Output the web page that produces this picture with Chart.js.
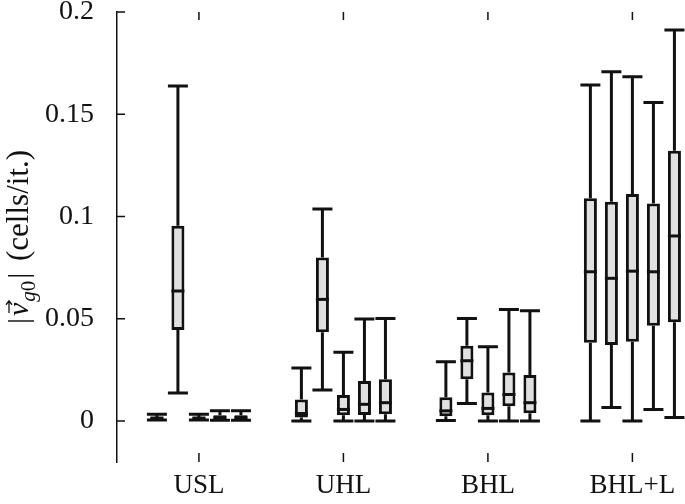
<!DOCTYPE html>
<html>
<head>
<meta charset="utf-8">
<script src="https://cdn.jsdelivr.net/npm/chart.js@4.4.1/dist/chart.umd.min.js"></script>
<style>
  html, body { margin: 0; padding: 0; background: #fff; }
  canvas { display: block; }
</style>
</head>
<body>
<canvas id="chart" width="685" height="504"></canvas>
<script>
const categories = ['USL', 'UHL', 'BHL', 'BHL+L'];
const yTicks = [0, 0.05, 0.1, 0.15, 0.2];

// one entry per box: [low whisker, q1, median, q3, high whisker]
const usl = [
  [0.0005, 0.0010, 0.0015, 0.0020, 0.0034],
  [0.0137, 0.0445, 0.0636, 0.0955, 0.1638],
  [0.0005, 0.0010, 0.0015, 0.0020, 0.0034],
  [0.0004, 0.0010, 0.0018, 0.0028, 0.0050],
  [0.0004, 0.0010, 0.0018, 0.0028, 0.0050]
];
const uhl = [
  [0.0000, 0.0018, 0.0037, 0.0106, 0.0260],
  [0.0152, 0.0434, 0.0595, 0.0800, 0.1037],
  [0.0000, 0.0029, 0.0057, 0.0127, 0.0337],
  [0.0000, 0.0030, 0.0082, 0.0196, 0.0499],
  [0.0000, 0.0034, 0.0090, 0.0204, 0.0502]
];
const bhl = [
  [0.0003, 0.0024, 0.0050, 0.0116, 0.0290],
  [0.0086, 0.0205, 0.0295, 0.0368, 0.0502],
  [0.0000, 0.0029, 0.0062, 0.0140, 0.0363],
  [0.0000, 0.0073, 0.0130, 0.0238, 0.0546],
  [0.0000, 0.0038, 0.0090, 0.0225, 0.0540]
];
const bhlL = [
  [0.0000, 0.0383, 0.0730, 0.1089, 0.1643],
  [0.0067, 0.0372, 0.0698, 0.1072, 0.1708],
  [0.0000, 0.0388, 0.0733, 0.1110, 0.1684],
  [0.0057, 0.0466, 0.0730, 0.1064, 0.1557],
  [0.0018, 0.0483, 0.0905, 0.1322, 0.1912]
];
const groups = [usl, uhl, bhl, bhlL];

const FONT = "'Liberation Serif', 'DejaVu Serif', serif";
const INK = '#111';

const datasets = [0, 1, 2, 3, 4].map(s => ({
  label: 'box ' + (s + 1),
  stats: groups.map(g => g[s]),
  data: groups.map((g, gi) => ({ x: gi + 1, y: [g[s][1], g[s][3]] })),
  backgroundColor: '#e0e0e0',
  borderColor: INK,
  borderWidth: 3,
  borderSkipped: false,
  categoryPercentage: 0.727,
  barPercentage: 0.62
}));

const boxPlot = {
  id: 'boxPlot',
  beforeDatasetsDraw(chart) {
    const ctx = chart.ctx, y = chart.scales.y;
    ctx.save();
    ctx.strokeStyle = INK;
    ctx.lineWidth = 3;
    chart.data.datasets.forEach((ds, i) => {
      chart.getDatasetMeta(i).data.forEach((bar, j) => {
        const st = ds.stats[j];
        const x = bar.x, half = 10;
        ctx.beginPath();
        ctx.moveTo(x, y.getPixelForValue(st[0]));
        ctx.lineTo(x, y.getPixelForValue(st[1]));
        ctx.moveTo(x, y.getPixelForValue(st[3]));
        ctx.lineTo(x, y.getPixelForValue(st[4]));
        [st[0], st[4]].forEach(v => {
          const py = y.getPixelForValue(v);
          ctx.moveTo(x - half, py);
          ctx.lineTo(x + half, py);
        });
        ctx.stroke();
      });
    });
    ctx.restore();
  },
  afterDatasetsDraw(chart) {
    const ctx = chart.ctx, y = chart.scales.y;
    ctx.save();
    ctx.strokeStyle = INK;
    ctx.lineWidth = 3;
    chart.data.datasets.forEach((ds, i) => {
      chart.getDatasetMeta(i).data.forEach((bar, j) => {
        const py = y.getPixelForValue(ds.stats[j][2]);
        ctx.beginPath();
        ctx.moveTo(bar.x - bar.width / 2, py);
        ctx.lineTo(bar.x + bar.width / 2, py);
        ctx.stroke();
      });
    });
    ctx.restore();
  }
};

// inward tick marks and the y axis title
const frame = {
  id: 'frame',
  afterDraw(chart) {
    const ctx = chart.ctx, a = chart.chartArea;
    const x = chart.scales.x, y = chart.scales.y;
    ctx.save();
    ctx.strokeStyle = INK;
    ctx.lineWidth = 1.5;
    ctx.beginPath();
    yTicks.forEach(v => {
      const py = y.getPixelForValue(v);
      ctx.moveTo(a.left, py);
      ctx.lineTo(a.left + 8, py);
    });
    categories.forEach((c, i) => {
      const px = x.getPixelForValue(i + 1);
      ctx.moveTo(px, a.top);
      ctx.lineTo(px, a.top + 8);
      ctx.moveTo(px, a.bottom - 9);
      ctx.lineTo(px, a.bottom);
    });
    ctx.stroke();

    // |v_g0| (cells/it.)
    const parts = [
      { t: '|', f: '30px ' + FONT, dy: 0, gap: 2 },
      { t: 'v', f: 'italic 30px ' + FONT, dy: 0, arrow: true, gap: 1 },
      { t: 'g', f: 'italic 21px ' + FONT, dy: 7, gap: 0 },
      { t: '0', f: '21px ' + FONT, dy: 7, gap: 2 },
      { t: '|', f: '30px ' + FONT, dy: 0, gap: 4 },
      { t: ' (cells/it.)', f: '31px ' + FONT, dy: 0, gap: 0 }
    ];
    ctx.translate(28, (a.top + a.bottom) / 2);
    ctx.rotate(-Math.PI / 2);
    ctx.fillStyle = INK;
    ctx.textBaseline = 'alphabetic';
    let total = 0;
    parts.forEach(p => { ctx.font = p.f; p.w = ctx.measureText(p.t).width; total += p.w + p.gap; });
    let cx = -total / 2;
    parts.forEach(p => {
      ctx.font = p.f;
      ctx.fillText(p.t, cx, p.dy);
      if (p.arrow) {
        const ay = -19, x0 = cx + 3, x1 = cx + p.w + 2;
        ctx.lineWidth = 1.3;
        ctx.beginPath();
        ctx.moveTo(x0, ay);
        ctx.lineTo(x1, ay);
        ctx.moveTo(x1 - 4, ay - 3);
        ctx.lineTo(x1, ay);
        ctx.lineTo(x1 - 4, ay + 3);
        ctx.stroke();
      }
      cx += p.w + p.gap;
    });
    ctx.restore();
  }
};

new Chart(document.getElementById('chart'), {
  type: 'bar',
  data: { datasets },
  plugins: [boxPlot, frame],
  options: {
    responsive: false,
    animation: false,
    layout: { padding: { top: 12, left: 0, right: 0, bottom: 0 } },
    plugins: { legend: { display: false }, tooltip: { enabled: false } },
    scales: {
      x: {
        type: 'linear',
        offset: false,
        min: 0.433,
        max: 4.364,
        grid: { display: false },
        border: { display: false },
        afterBuildTicks: s => { s.ticks = categories.map((c, i) => ({ value: i + 1 })); },
        afterFit: s => { s.height = 42; s.paddingLeft = 0; s.paddingRight = 0; },
        ticks: {
          padding: 0,
          color: INK,
          font: { family: FONT, size: 27 },
          callback: v => categories[v - 1]
        }
      },
      y: {
        min: -0.02,
        max: 0.2,
        grid: { display: false },
        border: { display: true, color: INK, width: 1.5 },
        afterBuildTicks: s => { s.ticks = yTicks.map(v => ({ value: v })); },
        afterFit: s => { s.width = 117; s.paddingTop = 0; s.paddingBottom = 0; },
        ticks: {
          padding: 15,
          color: INK,
          font: { family: FONT, size: 28 },
          callback: v => String(v)
        }
      }
    }
  }
});
</script>
</body>
</html>
